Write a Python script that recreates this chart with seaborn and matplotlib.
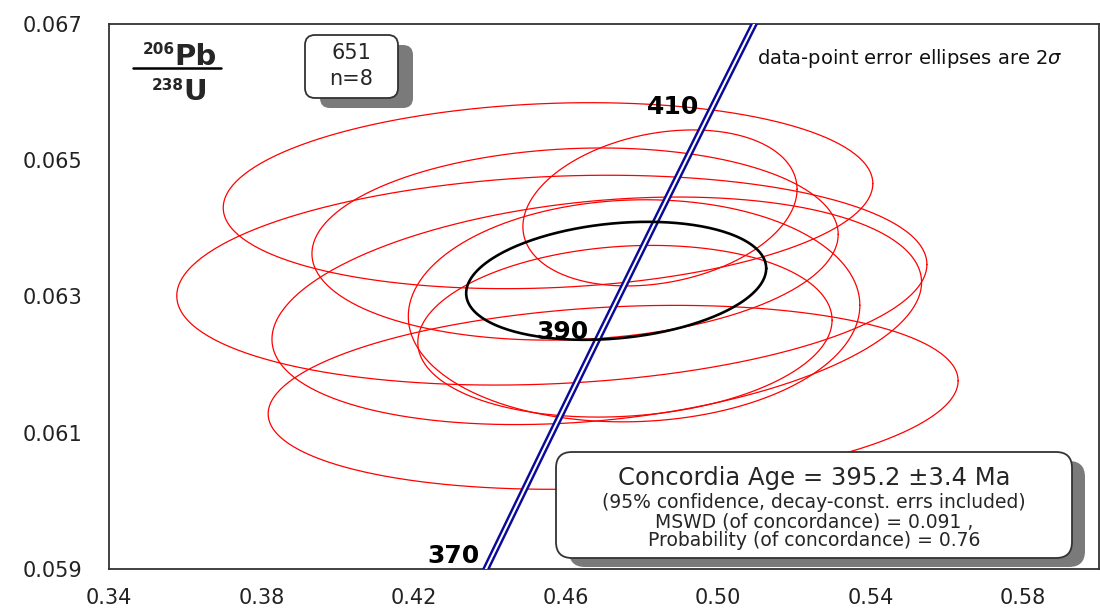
import numpy as np
import matplotlib
matplotlib.use("Agg")
import matplotlib.pyplot as plt
import seaborn as sns
from matplotlib.patches import FancyBboxPatch
from matplotlib.lines import Line2D
from matplotlib.transforms import IdentityTransform

# ---------------- data ----------------
# 207Pb/235U (x) and 206Pb/238U (y) spot analyses, 2-sigma errors and error correlation
spot_x = [0.4553, 0.4624, 0.4847, 0.4563, 0.4681, 0.4724, 0.4779, 0.4755]
spot_x_err = [0.0853, 0.0691, 0.0360, 0.0985, 0.0853, 0.0906, 0.0593, 0.0544]
spot_y = [0.06448, 0.06377, 0.06430, 0.06324, 0.06279, 0.06152, 0.06279, 0.06249]
spot_y_err = [0.001365, 0.00141, 0.001145, 0.00154, 0.00167, 0.00135, 0.00163, 0.00126]
spot_rho = [0.13, 0.10, 0.24, 0.15, 0.25, 0.18, 0.05, 0.13]

# concordia age ellipse
mean_x, mean_x_err = 0.4732, 0.0394
mean_y, mean_y_err = 0.06323, 0.000866
mean_rho = 0.21

# concordia curve points (age in Ma)
conc_age = [360, 370, 380, 390, 400, 410, 420, 430, 440]
conc_x = [0.42554, 0.43964, 0.45389, 0.46828, 0.48281, 0.49748, 0.51231, 0.52727, 0.54239]
conc_y = [0.057433, 0.059075, 0.060720, 0.062366, 0.064015, 0.065666, 0.067322, 0.068978, 0.070637]
age_labels = [370, 390, 410]

x_ticks = [0.34, 0.36, 0.38, 0.40, 0.42, 0.44, 0.46, 0.48, 0.50, 0.52, 0.54, 0.56, 0.58]
x_tick_labels = ["0.34", "", "0.38", "", "0.42", "", "0.46", "", "0.50", "", "0.54", "", "0.58"]
y_ticks = [0.059, 0.060, 0.061, 0.062, 0.063, 0.064, 0.065, 0.066, 0.067]
y_tick_labels = ["0.059", "", "0.061", "", "0.063", "", "0.065", "", "0.067"]

sample_name = "651"
n_label = "n=8"
result_lines = ["Concordia Age = 395.2 \u00b13.4 Ma",
                "(95% confidence, decay-const. errs included)",
                "MSWD (of concordance) = 0.091 ,",
                "Probability (of concordance) = 0.76"]

# ---------------- style ----------------
sns.set_style("white")
plt.rcParams['font.family'] = ['DejaVu Sans']

W, H = 1100, 610
fig = plt.figure(figsize=(11, 6.1), dpi=100)
ax = fig.add_axes([109 / W, (H - 569) / H, 990 / W, 545 / H])


def ellipse_xy(cx, sx, cy, sy, rho, n=300):
    t = np.linspace(0, 2 * np.pi, n)
    ex = cx + sx * np.cos(t)
    ey = cy + sy * (rho * np.cos(t) + np.sqrt(1 - rho ** 2) * np.sin(t))
    return ex, ey


for cx, sx, cy, sy, r in zip(spot_x, spot_x_err, spot_y, spot_y_err, spot_rho):
    ex, ey = ellipse_xy(cx, sx, cy, sy, r)
    ax.plot(ex, ey, color='#ff0000', lw=0.9, zorder=2)

# concordia: double navy line
sns.lineplot(x=conc_x, y=conc_y, sort=False, estimator=None, ax=ax,
             color='#0a0a9a', lw=5.0, zorder=3)
ax.plot(conc_x, conc_y, color='white', lw=1.5, zorder=3.1)

# concordia-age ellipse
ex, ey = ellipse_xy(mean_x, mean_x_err, mean_y, mean_y_err, mean_rho)
ax.plot(ex, ey, color='black', lw=1.9, zorder=4)

for a in age_labels:
    i = conc_age.index(a)
    ax.annotate(str(a), (conc_x[i], conc_y[i]), xytext=(-6.5, 5.8),
                textcoords='offset points', ha='right', va='center',
                fontsize=18, fontweight='bold', color='black', zorder=6)

ax.set_xlim(0.34, 0.60)
ax.set_ylim(0.059, 0.067)
ax.set_xticks(x_ticks)
ax.set_xticklabels(x_tick_labels)
ax.set_yticks(y_ticks)
ax.set_yticklabels(y_tick_labels)
ax.tick_params(axis='both', direction='in', length=4, width=1, color='#222222',
               labelsize=15, labelcolor='#222222')
ax.tick_params(axis='x', pad=14)
ax.tick_params(axis='y', pad=19)
for s in ax.spines.values():
    s.set_color('#333333')
    s.set_linewidth(1.3)
ax.set_xlabel("")
ax.set_ylabel("")


def fx(px):
    return px / W


def fy(py):
    return 1 - py / H


# y-axis ratio label
fig.text(fx(175), fy(50), "206", ha='right', va='center', fontsize=11, fontweight='bold')
fig.text(fx(174), fy(57), "Pb", ha='left', va='center', fontsize=21, fontweight='bold')
fig.add_artist(Line2D([fx(133), fx(221)], [fy(68), fy(68)], transform=fig.transFigure,
                      color='black', lw=1.8))
fig.text(fx(184), fy(85), "238", ha='right', va='center', fontsize=11, fontweight='bold')
fig.text(fx(183), fy(92), "U", ha='left', va='center', fontsize=21, fontweight='bold')

# note
fig.text(fx(757), fy(59), r"data-point error ellipses are 2$\sigma$", ha='left', va='center',
         fontsize=14, color='#111111')


def shadow_box(x0, y0, x1, y1, dx, dy, rs):
    sh = FancyBboxPatch((x0 + dx, H - y1 - dy), x1 - x0, y1 - y0,
                        boxstyle=f"round,pad=0,rounding_size={rs}",
                        transform=IdentityTransform(), facecolor='#7a7a7a',
                        edgecolor='none', zorder=1)
    bx = FancyBboxPatch((x0, H - y1), x1 - x0, y1 - y0,
                        boxstyle=f"round,pad=0,rounding_size={rs}",
                        transform=IdentityTransform(), facecolor='white',
                        edgecolor='#333333', lw=1.3, zorder=1.5)
    fig.add_artist(sh)
    fig.add_artist(bx)


# sample box
shadow_box(305, 35, 398, 98, 15, 10, 10)
fig.text(fx(351.5), fy(53), sample_name, ha='center', va='center', fontsize=15, zorder=3)
fig.text(fx(351.5), fy(79), n_label, ha='center', va='center', fontsize=15, zorder=3)

# results box
shadow_box(556, 452, 1072, 558, 13, 9, 16)
fig.text(fx(814), fy(478), result_lines[0], ha='center', va='center', fontsize=17.5, zorder=3)
fig.text(fx(814), fy(503), result_lines[1], ha='center', va='center', fontsize=13.5, zorder=3)
fig.text(fx(814), fy(522), result_lines[2], ha='center', va='center', fontsize=13.5, zorder=3)
fig.text(fx(814), fy(541), result_lines[3], ha='center', va='center', fontsize=13.5, zorder=3)

fig.savefig("out.png", dpi=100)
